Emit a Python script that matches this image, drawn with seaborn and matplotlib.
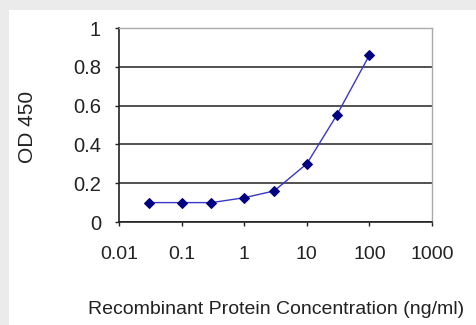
# OD 450 vs recombinant protein concentration curve

import matplotlib
matplotlib.use("Agg")
import matplotlib.pyplot as plt
import seaborn as sns
import pandas as pd
from matplotlib.patches import Rectangle

# data
concentration = [0.03, 0.1, 0.3, 1, 3, 10, 30, 100]
od450 = [0.10, 0.10, 0.10, 0.125, 0.16, 0.30, 0.55, 0.86]
x_ticks = [0.01, 0.1, 1, 10, 100, 1000]
x_tick_labels = ["0.01", "0.1", "1", "10", "100", "1000"]
y_ticks = [0, 0.2, 0.4, 0.6, 0.8, 1]
y_tick_labels = ["0", "0.2", "0.4", "0.6", "0.8", "1"]

df = pd.DataFrame({"conc": concentration, "od": od450})

sns.set_style("white")
plt.rcParams["font.family"] = ["Liberation Sans", "DejaVu Sans"]

W, H = 477, 325
fig = plt.figure(figsize=(W / 100, H / 100), dpi=100)
fig.patch.set_facecolor("#ebebeb")
# white panel, gray band left and top
fig.patches.append(Rectangle((9 / W, 0), 1 - 9 / W, 1 - 10 / H,
                             transform=fig.transFigure, facecolor="white",
                             edgecolor="none", zorder=-10))

ax = fig.add_axes([119 / W, 1 - 222 / H, (432 - 119) / W, (222 - 28) / H])
ax.set_zorder(5)
ax.set_facecolor("white")

sns.lineplot(data=df, x="conc", y="od", ax=ax, color="#3838c8", lw=1.0,
             marker="D", markersize=5.5, markerfacecolor="#000080",
             markeredgecolor="#000080")

ax.set_xscale("log")
ax.set_xlim(0.01, 1000)
ax.set_ylim(0, 1)
ax.set_xticks(x_ticks)
ax.set_xticklabels(x_tick_labels)
ax.set_yticks(y_ticks)
ax.set_yticklabels(y_tick_labels)
ax.minorticks_off()

ax.yaxis.grid(True, color="#222222", lw=1.1)
ax.set_axisbelow(True)

for side in ["left", "bottom"]:
    ax.spines[side].set_color("#222222")
    ax.spines[side].set_linewidth(1.2)
for side in ["top", "right"]:
    ax.spines[side].set_visible(True)
    ax.spines[side].set_color("#aaaaaa")
    ax.spines[side].set_linewidth(1.0)

ax.tick_params(axis="x", direction="out", length=3, width=1, color="#222222",
               pad=14, labelsize=14, labelcolor="#222222", bottom=True)
ax.tick_params(axis="y", direction="out", length=3, width=1, color="#222222",
               pad=10, labelsize=14.5, labelcolor="#222222", left=True)

ax.set_xlabel("")
ax.set_ylabel("")
fig.text(28 / W, 1 - 127 / H, "OD 450", rotation=90, ha="center", va="center",
         fontsize=15, color="#222222")
fig.text(88 / W, 1 - 310 / H, "Recombinant Protein Concentration (ng/ml)",
         ha="left", va="center", fontsize=14, color="#222222")

fig.savefig("out.png", dpi=100, facecolor=fig.get_facecolor())
